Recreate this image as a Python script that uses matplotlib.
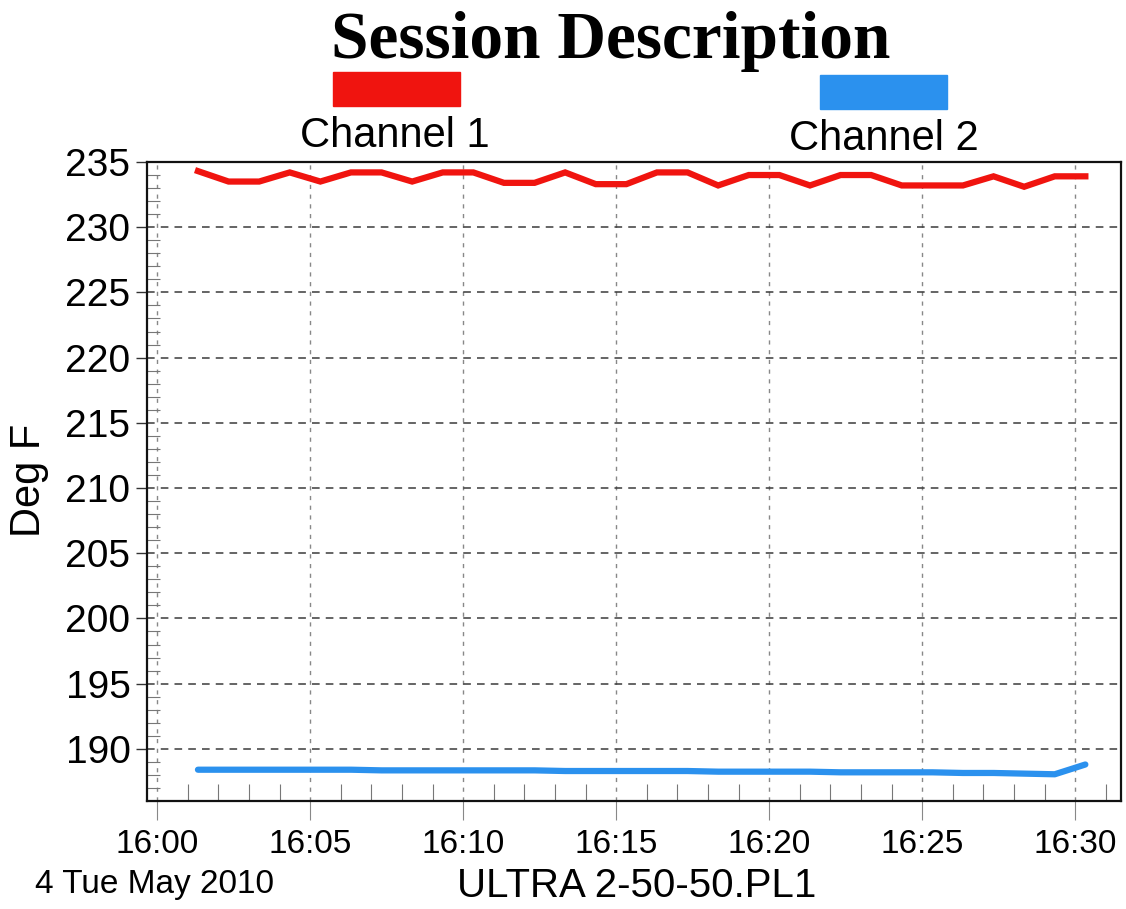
import matplotlib
matplotlib.use("Agg")
import matplotlib.pyplot as plt
from matplotlib.ticker import MultipleLocator, FuncFormatter
from matplotlib.patches import Rectangle

# sample times (hh:mm:ss) and readings in Deg F
times = ["16:01:20", "16:02:20", "16:03:20", "16:04:20", "16:05:20", "16:06:20",
         "16:07:20", "16:08:20", "16:09:20", "16:10:20", "16:11:20", "16:12:20",
         "16:13:20", "16:14:20", "16:15:20", "16:16:20", "16:17:20", "16:18:20",
         "16:19:20", "16:20:20", "16:21:20", "16:22:20", "16:23:20", "16:24:20",
         "16:25:20", "16:26:20", "16:27:20", "16:28:20", "16:29:20", "16:30:20"]
channel1 = [234.3, 233.5, 233.5, 234.2, 233.5, 234.2, 234.2, 233.5, 234.2, 234.2,
            233.4, 233.4, 234.2, 233.3, 233.3, 234.2, 234.2, 233.2, 234.0, 234.0,
            233.2, 234.0, 234.0, 233.2, 233.2, 233.2, 233.9, 233.1, 233.9, 233.9]
channel2 = [188.4, 188.4, 188.4, 188.4, 188.4, 188.4, 188.35, 188.35, 188.35, 188.35,
            188.35, 188.35, 188.3, 188.3, 188.3, 188.3, 188.3, 188.25, 188.25, 188.25,
            188.25, 188.2, 188.2, 188.2, 188.2, 188.15, 188.15, 188.1, 188.05, 188.8]
series_names = ["Channel 1", "Channel 2"]
title = "Session Description"
date_text = "4 Tue May 2010"
file_text = "ULTRA 2-50-50.PL1"

red = "#f0140f"
blue = "#2b91ee"


def to_min(s):
    h, m, sec = [int(p) for p in s.split(":")]
    return (h - 16) * 60 + m + sec / 60.0


t = [to_min(s) for s in times]

fig = plt.figure(figsize=(11.26, 9.09), dpi=100)
ax = fig.add_axes([0.1306, 0.1188, 0.865, 0.703])

ax.plot(t, channel1, color=red, lw=4.5, solid_joinstyle="miter", zorder=3)
ax.plot(t, channel2, color=blue, lw=4.5, solid_capstyle="round", zorder=3)

ax.set_xlim(-0.33, 31.5)
ax.set_ylim(186, 235)

ax.yaxis.set_major_locator(MultipleLocator(5))
ax.yaxis.set_minor_locator(MultipleLocator(1))
ax.xaxis.set_major_locator(MultipleLocator(5))
ax.xaxis.set_minor_locator(MultipleLocator(1))
ax.xaxis.set_major_formatter(FuncFormatter(lambda v, p: "16:%02d" % int(round(v))))
ax.yaxis.set_major_formatter(FuncFormatter(lambda v, p: "%d" % int(round(v))))

ax.tick_params(axis="y", which="major", direction="out", length=8, width=1,
               labelsize=28, pad=4, color="#333", labelcolor="black")
ax.tick_params(axis="y", which="minor", direction="in", length=9, width=0.8,
               color="#777")
ax.tick_params(axis="x", which="major", direction="out", length=14, width=0.8,
               labelsize=24, pad=6, color="#888", labelcolor="black")
ax.tick_params(axis="x", which="minor", direction="in", length=12, width=0.8,
               color="#777")
for lab in ax.get_xticklabels() + ax.get_yticklabels():
    lab.set_family("Liberation Sans")

ax.grid(True, which="major", axis="y", color="#3a3a3a", lw=1.1, dashes=(5, 4))
ax.grid(True, which="major", axis="x", color="#888", lw=1, dashes=(3, 4))
ax.set_axisbelow(True)
for sp in ax.spines.values():
    sp.set_linewidth(1.6)
    sp.set_color("#111")

# title and legend swatches
fig.text(0.5426, 0.936, title, ha="center", va="baseline",
         family="Liberation Serif", weight="bold", fontsize=48.5)
fig.patches.append(Rectangle((0.2957, 0.8834), 0.1128, 0.0374,
                             transform=fig.transFigure, color=red))
fig.patches.append(Rectangle((0.7282, 0.8801), 0.1128, 0.0374,
                             transform=fig.transFigure, color=blue))
fig.text(0.3508, 0.8383, series_names[0], ha="center", va="baseline",
         family="Liberation Sans", fontsize=30)
fig.text(0.785, 0.835, series_names[1], ha="center", va="baseline",
         family="Liberation Sans", fontsize=30)

fig.text(29 / 1126, 1 - 480 / 909, "Deg F", rotation=90, ha="center", va="center",
         family="Liberation Sans", fontsize=30)
fig.text(0.031, 0.0176, date_text, ha="left", va="baseline",
         family="Liberation Sans", fontsize=24)
fig.text(0.565, 0.0132, file_text, ha="center", va="baseline",
         family="Liberation Sans", fontsize=29)

fig.savefig("out.png", dpi=100, facecolor="white")
